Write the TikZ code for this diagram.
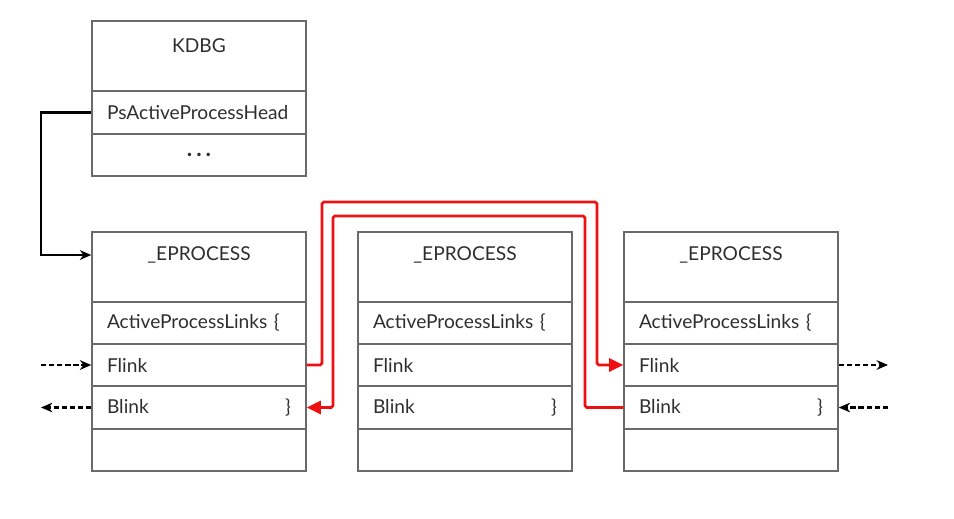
\documentclass[tikz,border=0pt]{standalone}
\usepackage{fontspec}
\setmainfont{Lato}
\usetikzlibrary{arrows.meta}
\definecolor{boxline}{HTML}{6A6A6A}
\definecolor{txt}{HTML}{2E2E2E}
\definecolor{redline}{HTML}{EE1111}
\begin{document}
\begin{tikzpicture}[x=0.02cm,y=-0.02cm,
  font=\fontsize{10.9pt}{12pt}\selectfont,
  cell/.style={draw=boxline,line width=0.85pt,minimum width=4.28cm,minimum height=0.84cm,inner sep=0pt,text=txt},
  titlecell/.style={cell,minimum height=1.4cm},
  rowcell/.style={cell,text width=3.68cm,align=left},
  lbl/.style={text=txt,inner sep=0pt},
  blk/.style={line width=1.5pt,-{Stealth[length=6.5pt,width=5.5pt]}},
  dsh/.style={line width=1.5pt,dash pattern=on 3pt off 1.6pt,-{Stealth[length=6.5pt,width=5.5pt]}},
  redc/.style={redline,line width=1.5pt,-{Triangle[length=8pt,width=7.5pt]}}]
\useasboundingbox (0,0) rectangle (954,518);
% KDBG
\node[titlecell] (k-title) at (199,56) {};
\node[lbl] (k-name) at (199,46) {KDBG};
\node[rowcell] (k-head) at (199,112.5) {PsActiveProcessHead};
\node[cell,font=\bfseries\fontsize{13pt}{13pt}\selectfont] (k-dots) at (199,155) {.\hspace{2.2pt}.\hspace{2.2pt}.};
% EPROCESS boxes
\foreach \i/\cx in {1/199,2/465,3/731}{
  \node[titlecell] (e\i-title) at (\cx,267) {};
  \node[lbl] (e\i-name) at (\cx,255) {\_EPROCESS};
  \node[rowcell] (e\i-apl) at (\cx,323) {ActiveProcessLinks \{};
  \node[rowcell] (e\i-flink) at (\cx,365) {Flink};
  \node[rowcell] (e\i-blink) at (\cx,407.5) {Blink\hfill\}};
  \node[cell] (e\i-last) at (\cx,450) {};
}
% black connector
\coordinate (bk) at (41,112.5);
\draw[blk] (k-head.west) -- (bk) |- (e1-name -| e1-title.west);
% dashed
\coordinate (lf) at (41,365);
\coordinate (lb) at (41,407.5);
\coordinate (rf) at (888,365);
\coordinate (rb) at (888,407.5);
\draw[dsh] (lf) -- (e1-flink.west);
\draw[dsh] (e1-blink.west) -- (lb);
\draw[dsh] (e3-flink.east) -- (rf);
\draw[dsh] (rb) -- (e3-blink.east);
% red connectors
\coordinate (r1a) at (322,202);
\coordinate (r1b) at (597,202);
\coordinate (r2a) at (585,216);
\coordinate (r2b) at (333,216);
\draw[redc,rounded corners=1pt] (e1-flink.east) -| (r1a) -- (r1b) |- (e3-flink.west);
\draw[redc,rounded corners=1pt] (e3-blink.west) -| (r2a) -- (r2b) |- (e1-blink.east);
\end{tikzpicture}
\end{document}
